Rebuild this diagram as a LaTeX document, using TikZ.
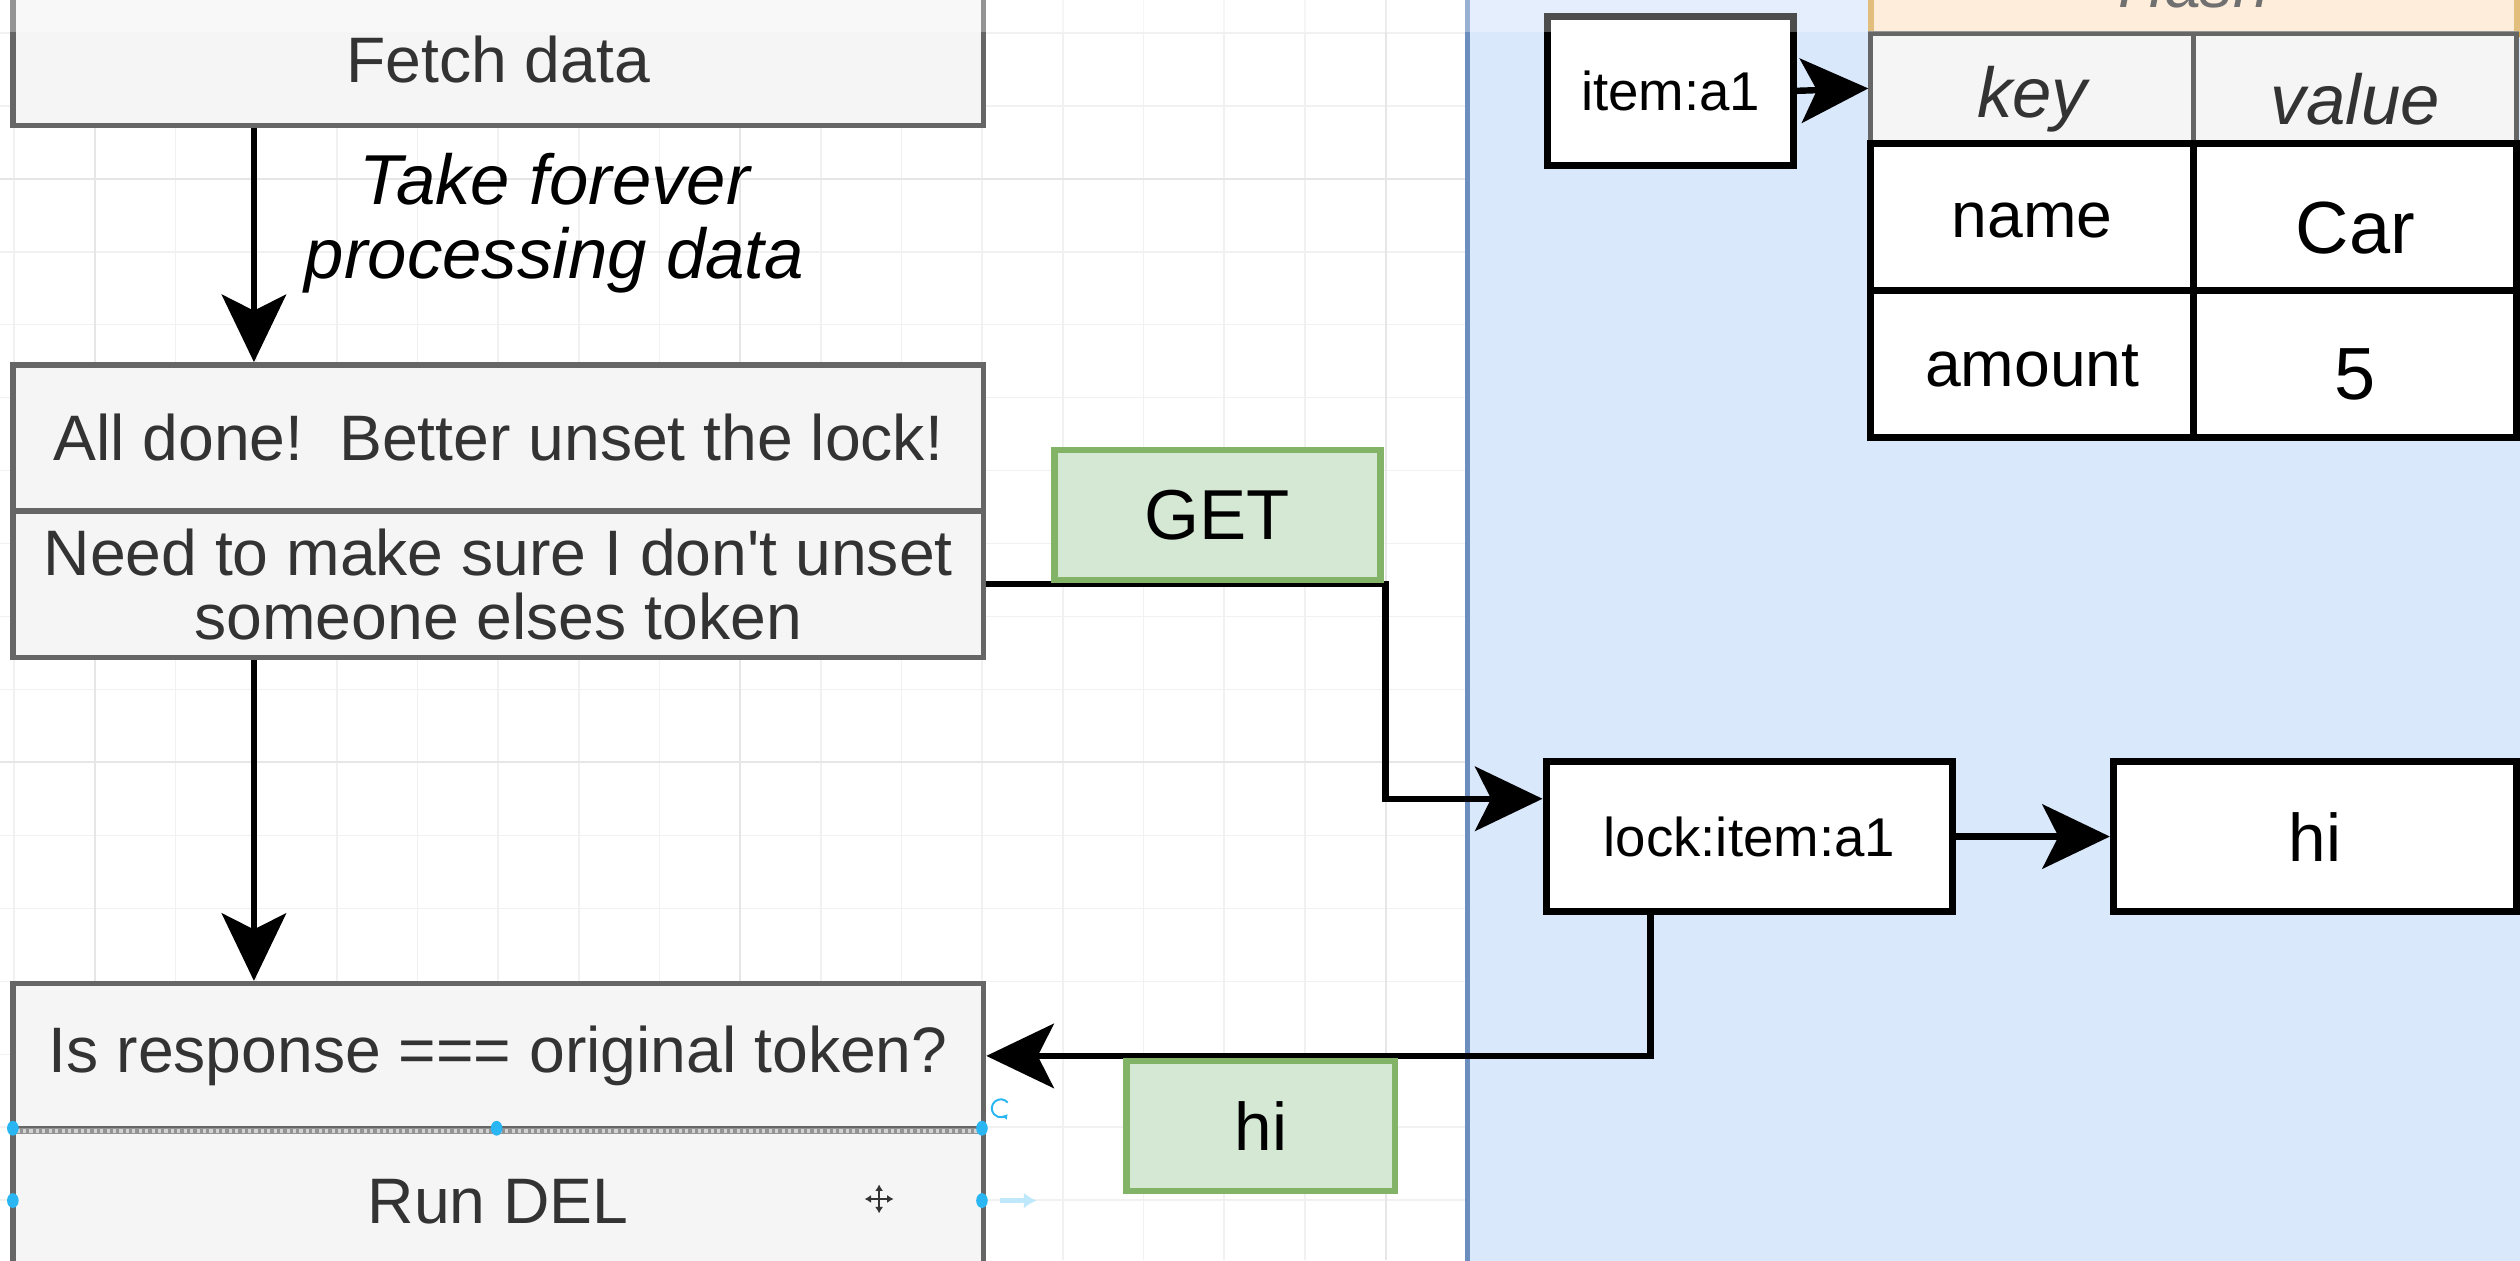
\documentclass[tikz,border=0pt]{standalone}
\usepackage{fontspec}
\setmainfont{Liberation Sans}
\usetikzlibrary{arrows.meta}
\definecolor{grayfill}{HTML}{F5F5F5}
\definecolor{graystroke}{HTML}{666666}
\definecolor{graytext}{HTML}{333333}
\definecolor{greenfill}{HTML}{D5E8D4}
\definecolor{greenstroke}{HTML}{82B366}
\definecolor{orangefill}{HTML}{FFE6CC}
\definecolor{orangestroke}{HTML}{D6A346}
\definecolor{bluefill}{HTML}{DAE8FC}
\definecolor{bluestroke}{HTML}{6C8EBF}
\definecolor{handleblue}{HTML}{29B6F2}
\definecolor{gridminor}{HTML}{F1F1F1}
\definecolor{gridmajor}{HTML}{E6E6E6}
\begin{document}
\begin{tikzpicture}[x=0.5pt,y=-0.5pt,
  graybox/.style={draw=graystroke, fill=grayfill, line width=1.7pt, text=graytext,
    inner sep=0pt, minimum width=302pt, align=center,
    font=\fontsize{20}{20}\selectfont},
  blackbox/.style={draw=black, fill=white, line width=2.2pt, inner sep=0pt},
  hdrcell/.style={draw=graystroke, fill=grayfill, line width=1.5pt, inner sep=0pt,
    minimum width=100.5pt, minimum height=34pt},
  datacell/.style={blackbox, minimum width=100.5pt},
  greenbox/.style={draw=greenstroke, fill=greenfill, line width=2pt, inner sep=0pt},
  conn/.style={line width=2pt, draw=black},
  arr/.style={conn, -{Stealth[length=21pt,width=20pt,inset=5pt]}},
  smalltxt/.style={font=\fontsize{17}{17}\selectfont},
  midtxt/.style={font=\fontsize{20}{20}\selectfont},
  bigtxt/.style={font=\fontsize{23}{23}\selectfont},
  hdrtxt/.style={font=\itshape\fontsize{22}{22}\selectfont, text=graytext},
]
\useasboundingbox (0,0) rectangle (1568,784);
\clip (0,0) rectangle (1568,784);
\fill[white] (0,0) rectangle (1568,784);

% grid
\foreach \i in {0,...,17} {
  \draw[gridminor, line width=0.5pt] ({8.7+50.2*\i},0) -- ({8.7+50.2*\i},784);
}
\foreach \j in {0,...,17} {
  \draw[gridminor, line width=0.5pt] (0,{20.4+45.4*\j}) -- (913,{20.4+45.4*\j});
}
\foreach \i in {1,9,17} {
  \draw[gridmajor, line width=0.6pt] ({8.7+50.2*\i},0) -- ({8.7+50.2*\i},784);
}
\foreach \j in {2,10} {
  \draw[gridmajor, line width=0.6pt] (0,{20.4+45.4*\j}) -- (913,{20.4+45.4*\j});
}

% blue region
\fill[bluefill] (913,-5) rectangle (1575,790);
\draw[bluestroke, line width=1.5pt] (913,-5) -- (913,790);

% left flow
\node[graybox, minimum height=41pt] (fetch) at (310,37) {Fetch data};
\node[graybox, minimum height=45.5pt] (alldone) at (310,272.5) {All done!\ \ Better unset the lock!};
\node[graybox, minimum height=45.5pt] (needsure) at (310,363.5) {Need to make sure I don\textquotesingle t unset\\someone elses token};
\node[graybox, minimum height=45pt] (isresp) at (310,657) {Is response === original token?};
\node[graybox, minimum height=46pt] (rundel) at (310,748) {Run DEL};
\draw[graystroke!70, line width=1.9pt] (isresp.south west) -- (isresp.south east);
\draw[gray!35, line width=1.2pt, dash pattern=on 1pt off 1pt] (isresp.south west) -- (isresp.south east);

\node[font=\itshape\fontsize{22}{23}\selectfont, align=center] (slow) at (345,139) {Take forever\\processing data};

% right side
\node[blackbox, minimum width=76.5pt, minimum height=46.5pt, smalltxt] (item) at (1039.5,56.5) {item:a1};
\node[blackbox, minimum width=126.5pt, minimum height=46.5pt, smalltxt] (lock) at (1088.5,520.5) {lock:item:a1};
\node[blackbox, minimum width=125.5pt, minimum height=46.5pt, font=\fontsize{21}{21}\selectfont] (hival) at (1440.5,520.5) {hi};

% hash table
\node[draw=orangestroke, fill=orangefill, line width=2pt, inner sep=0pt,
  minimum width=201pt, minimum height=30.5pt, font=\itshape\fontsize{20}{20}\selectfont, text=graytext] (hash) at (1365,-9.5) {Hash};
\node[hdrcell] (keyh) at (1264.5,55) {};
\node[hdrcell] (valh) at (1465.5,55) {};
\node[hdrtxt] (keyt) at (1264.5,62) {key};
\node[hdrtxt] (valt) at (1465.5,62) {value};
\node[datacell, minimum height=46pt] (name) at (1264.5,135) {};
\node[datacell, minimum height=46pt] (car) at (1465.5,135) {};
\node[datacell, minimum height=45.5pt] (amount) at (1264.5,226.5) {};
\node[datacell, minimum height=45.5pt] (five) at (1465.5,226.5) {};
\node[midtxt] (namet) at (1264.5,137) {name};
\node[bigtxt] (cart) at (1465.5,142) {Car};
\node[midtxt] (amountt) at (1264.5,228) {amount};
\node[bigtxt] (fivet) at (1465.5,233) {5};

% connectors
\coordinate (c1) at (158,0);
\coordinate (g1) at (862,363.5);
\coordinate (g2) at (862,497);
\coordinate (r1) at (1027,657);
\draw[arr] (fetch.south -| c1) -- (alldone.north -| c1);
\draw[arr] (needsure.south -| c1) -- (isresp.north -| c1);
\draw[conn, -{Stealth[length=21pt,width=20pt,inset=5pt]}] (needsure.east) -- (g1) -- (g2) -- (g2 -| lock.west);
\draw[arr] (lock.east) -- (hival.west);
\draw[arr] (lock.south -| r1) -- (r1) -- (isresp.east);
\draw[arr] (item.east) -- (keyh.west);

% edge labels
\node[greenbox, minimum width=101.5pt, minimum height=40.5pt, font=\fontsize{22}{22}\selectfont] (get) at (757.5,320.5) {GET};
\node[greenbox, minimum width=83.5pt, minimum height=40.5pt, font=\fontsize{21}{21}\selectfont] (hilbl) at (784.5,700.5) {hi};

% toolbar overlay at top
\fill[white, opacity=0.3] (0,0) rectangle (1568,20);

% selection handles
\foreach \p in {(8,702),(309,702),(611,702),(8,747),(611,747)} {
  \fill[handleblue] \p ellipse [x radius=1.8pt, y radius=2.3pt];
}
\draw[handleblue, line width=0.6pt, -{Latex[length=1.5pt,width=2pt]}] (627,686) arc[start angle=40, end angle=320, radius=2.8pt];
\draw[handleblue!30, line width=1.5pt, -{Latex[length=4pt,width=5pt]}] (622,747) -- (645,747);
\draw[black!80, line width=0.6pt, {Latex[length=2pt,width=2.5pt]}-{Latex[length=2pt,width=2.5pt]}] (547,737) -- (547,755);
\draw[black!80, line width=0.6pt, {Latex[length=2pt,width=2.5pt]}-{Latex[length=2pt,width=2.5pt]}] (538,746) -- (556,746);
\end{tikzpicture}
\end{document}
